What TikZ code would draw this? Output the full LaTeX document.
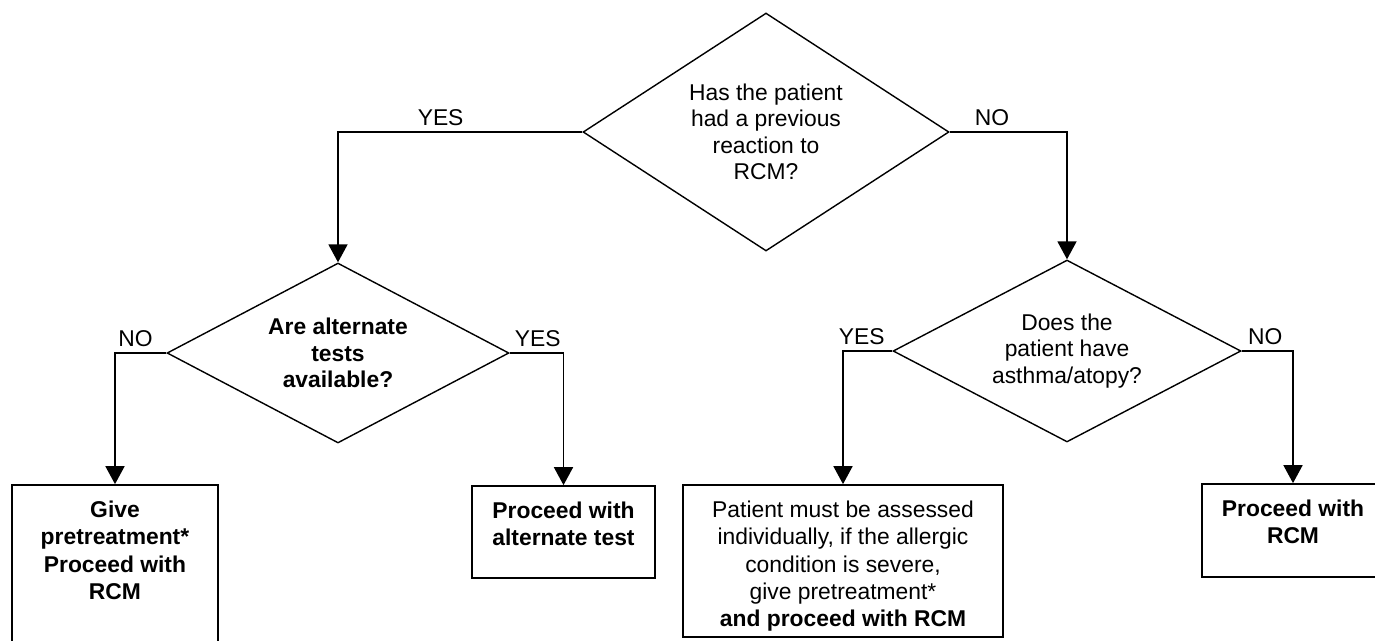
\documentclass[tikz,border=0pt]{standalone}
\usepackage{fontspec}
\setmainfont{Liberation Sans}
\usetikzlibrary{arrows.meta, positioning, shapes.geometric}

\begin{document}
\begin{tikzpicture}[
    x=0.02cm, y=-0.02cm,
    quest/.style={diamond, draw=black, line width=0.8pt, aspect=1.9, inner sep=0pt, align=center, font=\fontsize{13}{15}\selectfont},
    box/.style={rectangle, draw=black, line width=1pt},
    boxtext/.style={anchor=north, yshift=-0.33cm, inner sep=0pt, align=center, font=\fontsize{13}{15.5}\selectfont},
    arrow/.style={-{Triangle[length=0.36cm, width=0.38cm]}, line width=1pt},
    ans/.style={above, font=\fontsize{13}{15}\selectfont}
  ]
  \useasboundingbox (0,0) rectangle (1375,640);

  % questions
  \node[quest, minimum width=7.32cm, minimum height=4.76cm] (react) at (766,132) {Has the patient\\had a previous\\reaction to\\RCM?};
  \node[quest, minimum width=6.84cm, minimum height=3.6cm, font=\fontsize{13}{15}\selectfont\bfseries] (alt) at (338,353) {Are alternate\\tests\\available?};
  \node[quest, minimum width=6.96cm, minimum height=3.64cm] (asthma) at (1067,351) {Does the\\patient have\\asthma/atopy?};

  % outcomes
  \node[box, minimum width=4.12cm, minimum height=3.5cm, label={[boxtext, font=\fontsize{13}{15.5}\selectfont\bfseries]north:{Give\\pretreatment*\\Proceed with\\RCM}}] (pretreat) at (115,572.5) {};
  \node[box, minimum width=3.66cm, minimum height=1.84cm, label={[boxtext, font=\fontsize{13}{15.5}\selectfont\bfseries]north:{Proceed with\\alternate test}}] (alttest) at (563.5,532) {};
  \node[box, minimum width=6.4cm, minimum height=3.04cm, label={[boxtext]north:{Patient must be assessed\\individually, if the allergic\\condition is severe,\\give pretreatment*\\\textbf{and proceed with RCM}}}] (assess) at (843,561) {};
  \node[box, minimum width=3.64cm, minimum height=1.86cm, label={[boxtext, font=\fontsize{13}{15.5}\selectfont\bfseries]north:{Proceed with\\RCM}}] (rcm) at (1293,530.5) {};

  % branches
  \draw[arrow] (react.west) -| node[ans, pos=0.29] {YES} (alt.north);
  \draw[arrow] (react.east) -| node[ans, pos=0.18] {NO} (asthma.north);
  \draw[arrow] (alt.west) -| node[ans, pos=0.3] {NO} (pretreat.north);
  \draw[arrow] (alt.east) -| node[ans, pos=0.26] {YES} (alttest.north);
  \draw[arrow] (asthma.west) -| node[ans, pos=0.31] {YES} (assess.north);
  \draw[arrow] (asthma.east) -| node[ans, pos=0.23] {NO} (rcm.north);
\end{tikzpicture}
\end{document}
